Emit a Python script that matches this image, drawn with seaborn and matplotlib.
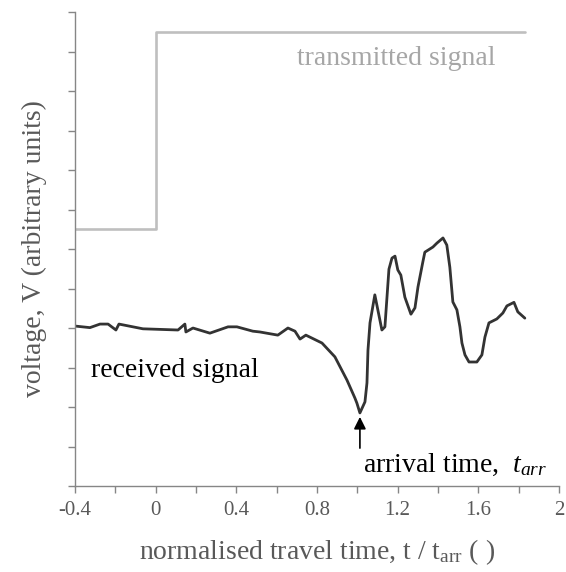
import matplotlib
matplotlib.use("Agg")
import matplotlib.pyplot as plt
import seaborn as sns
import pandas as pd

# Transmitted step signal
tx_time = [-0.4, 0.0, 0.0, 1.83]
tx_volt = [6.5, 6.5, 11.5, 11.5]

# Received signal trace
rx_time = [-0.400, -0.326, -0.276, -0.236, -0.197, -0.182, -0.063, 0.111, 0.145, 0.150,
           0.185, 0.269, 0.359, 0.403, 0.482, 0.517, 0.606, 0.656, 0.691, 0.716,
           0.745, 0.825, 0.889, 0.949, 0.988, 0.998, 1.013, 1.038, 1.048, 1.053,
           1.063, 1.087, 1.122, 1.137, 1.157, 1.172, 1.187, 1.201, 1.216, 1.236,
           1.266, 1.286, 1.301, 1.325, 1.335, 1.375, 1.395, 1.425, 1.444, 1.459,
           1.474, 1.494, 1.509, 1.519, 1.534, 1.554, 1.593, 1.618, 1.633, 1.653,
           1.692, 1.722, 1.742, 1.777, 1.796, 1.831]
rx_volt = [4.05, 4.01, 4.10, 4.10, 3.95, 4.10, 3.98, 3.95, 4.10, 3.90,
           4.00, 3.87, 4.03, 4.03, 3.92, 3.90, 3.82, 4.00, 3.92, 3.72,
           3.82, 3.62, 3.27, 2.68, 2.23, 2.10, 1.85, 2.13, 2.61, 3.44,
           4.13, 4.84, 3.95, 4.03, 5.49, 5.77, 5.82, 5.47, 5.34, 4.78,
           4.35, 4.51, 5.04, 5.67, 5.92, 6.05, 6.15, 6.28, 6.10, 5.54,
           4.66, 4.46, 4.03, 3.62, 3.32, 3.14, 3.14, 3.32, 3.77, 4.13,
           4.23, 4.38, 4.56, 4.65, 4.41, 4.25]

x_ticks = [-0.4, 0, 0.4, 0.8, 1.2, 1.6, 2]
x_tick_labels = ["-0.4", "0", "0.4", "0.8", "1.2", "1.6", "2"]

sns.set_theme(style="ticks")
plt.rcParams["font.family"] = ["Liberation Serif", "DejaVu Serif"]
plt.rcParams["mathtext.fontset"] = "custom"
plt.rcParams["mathtext.rm"] = "Liberation Serif"
plt.rcParams["mathtext.it"] = "Liberation Serif:italic"

fig = plt.figure(figsize=(5.66, 5.72), dpi=100)
ax = fig.add_axes([0.1325, 0.1503, 0.855, 0.8287])

tx = pd.DataFrame({"t": tx_time, "V": tx_volt})
rx = pd.DataFrame({"t": rx_time, "V": rx_volt})
sns.lineplot(data=tx, x="t", y="V", sort=False, estimator=None, color="#bfbfbf",
             linewidth=1.9, ax=ax)
sns.lineplot(data=rx, x="t", y="V", sort=False, estimator=None, color="#333333",
             linewidth=2.0, ax=ax)

ax.set_xlim(-0.4, 2.0)
ax.set_ylim(0, 12)
ax.set_xticks(x_ticks)
ax.set_xticklabels(x_tick_labels)
ax.set_xticks([-0.2, 0.2, 0.6, 1.0, 1.4, 1.8], minor=True)
ax.set_yticks(range(0, 13))
ax.set_yticklabels([])

grey = "#595959"
for side in ["top", "right"]:
    ax.spines[side].set_visible(False)
for side in ["left", "bottom"]:
    ax.spines[side].set_color("#868686")
    ax.spines[side].set_linewidth(1.0)
ax.tick_params(axis="both", which="both", color="#868686", width=1.0, length=5,
               direction="out", labelcolor=grey, labelsize=15, pad=6)

ax.set_xlabel("normalised travel time, t / t$_{\\mathrm{arr}}$ ( )", fontsize=20,
              color=grey, labelpad=12)
ax.set_ylabel("voltage, V (arbitrary units)", fontsize=20, color=grey, labelpad=9)

ax.text(0.70, 10.66, "transmitted signal", fontsize=20, color="#a6a6a6",
        ha="left", va="baseline")
ax.text(-0.321, 2.76, "received signal", fontsize=20, color="black",
        ha="left", va="baseline")
ax.text(1.028, 0.35, "arrival time,  $t_{arr}$", fontsize=20, color="black",
        ha="left", va="baseline")
ax.annotate("", xy=(1.013, 1.75), xytext=(1.013, 0.96),
            arrowprops=dict(arrowstyle="-|>", color="black", lw=1.2,
                            mutation_scale=18, shrinkA=0, shrinkB=0))

fig.savefig("out.png", dpi=100)
